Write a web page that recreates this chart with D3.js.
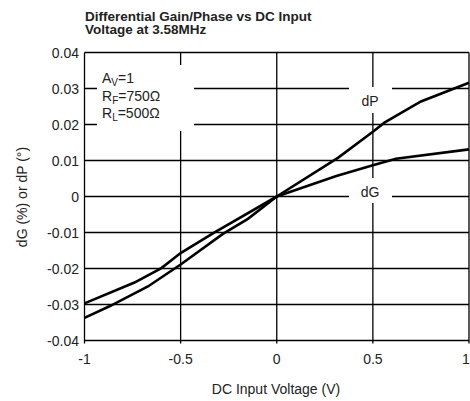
<!DOCTYPE html>
<html lang="en">
<head>
<meta charset="UTF-8">
<title>Differential Gain/Phase vs DC Input Voltage</title>
<script src="https://d3js.org/d3.v7.min.js"></script>
<style>
  html, body { margin: 0; padding: 0; background: #fff; }
  svg { display: block; }
  text { font-family: "Liberation Sans", Arial, sans-serif; fill: #222; }
  .grid { stroke: #000; stroke-width: 1.3px; }
  .curve { fill: none; stroke: #000; stroke-width: 2.6px; }
</style>
</head>
<body>
<svg width="470" height="401"></svg>
<script>
// values
const dgX = [-1, -0.74, -0.6, -0.5, -0.33, 0, 0.31, 0.5, 0.62, 1];
const dgY = [-0.0297, -0.0239, -0.0199, -0.0157, -0.0102, 0, 0.0057, 0.0087, 0.0105, 0.0131];
const dpX = [-1, -0.87, -0.67, -0.5, -0.28, -0.15, 0, 0.32, 0.5, 0.56, 0.75, 1];
const dpY = [-0.0337, -0.0305, -0.025, -0.0189, -0.0104, -0.0062, 0, 0.0108, 0.018, 0.0205, 0.0264, 0.0316];
const xTicks = [-1, -0.5, 0, 0.5, 1];
const yTicks = [-0.04, -0.03, -0.02, -0.01, 0, 0.01, 0.02, 0.03, 0.04];

const svg = d3.select("svg");
const mL = 84.5, mR = 469, mT = 52.5, mB = 340.5;

const x = d3.scaleLinear().domain([-1, 1]).range([mL, mR]);
const y = d3.scaleLinear().domain([-0.04, 0.04]).range([mB, mT]);

// grid
const g = svg.append("g");
g.selectAll(".h").data(yTicks).enter().append("line")
  .attr("class", "grid")
  .attr("x1", mL).attr("x2", mR)
  .attr("y1", d => y(d)).attr("y2", d => y(d));
g.selectAll(".v").data(xTicks).enter().append("line")
  .attr("class", "grid")
  .attr("y1", mT).attr("y2", mB + 3)
  .attr("x1", d => x(d)).attr("x2", d => x(d));

// white patches behind the labels
const patches = [
  [97, 65, 97, 66],
  [349, 87, 43, 26],
  [349, 178, 43, 25]
];
svg.selectAll(".patch").data(patches).enter().append("rect")
  .attr("x", d => d[0]).attr("y", d => d[1])
  .attr("width", d => d[2]).attr("height", d => d[3])
  .attr("fill", "#fff");

// curves
const line = d3.line().x(d => x(d[0])).y(d => y(d[1]));
svg.append("path").attr("class", "curve")
  .attr("d", line(dgX.map((v, i) => [v, dgY[i]])));
svg.append("path").attr("class", "curve")
  .attr("d", line(dpX.map((v, i) => [v, dpY[i]])));

// tick labels
svg.selectAll(".yl").data(yTicks).enter().append("text")
  .attr("x", 79).attr("y", d => y(d)).attr("dy", "0.36em")
  .attr("text-anchor", "end").attr("font-size", 14)
  .text(d => d === 0 ? "0" : d3.format(".2f")(d).replace("−", "-"));
svg.selectAll(".xl").data(xTicks).enter().append("text")
  .attr("x", d => Math.min(x(d), 466)).attr("y", 364)
  .attr("text-anchor", "middle").attr("font-size", 14)
  .text(d => d);

// titles
svg.append("text").attr("x", 85).attr("y", 20.5)
  .attr("font-size", 13.5).attr("font-weight", "bold")
  .text("Differential Gain/Phase vs DC Input");
svg.append("text").attr("x", 85).attr("y", 34)
  .attr("font-size", 13.5).attr("font-weight", "bold")
  .text("Voltage at 3.58MHz");
svg.append("text").attr("x", 276).attr("y", 394)
  .attr("text-anchor", "middle").attr("font-size", 14)
  .text("DC Input Voltage (V)");
svg.append("text")
  .attr("transform", "translate(27,197) rotate(-90)")
  .attr("text-anchor", "middle").attr("font-size", 14)
  .text("dG (%) or dP (°)");

// annotations
const notes = [["A", "V", "=1"], ["R", "F", "=750Ω"], ["R", "L", "=500Ω"]];
notes.forEach((n, i) => {
  const t = svg.append("text").attr("x", 102).attr("y", 83 + i * 17.7).attr("font-size", 14);
  t.append("tspan").text(n[0]);
  t.append("tspan").attr("font-size", 10).attr("dy", 3).text(n[1]);
  t.append("tspan").attr("dy", -3).text(n[2]);
});
svg.append("text").attr("x", 370).attr("y", 106)
  .attr("text-anchor", "middle").attr("font-size", 14).text("dP");
svg.append("text").attr("x", 370).attr("y", 197)
  .attr("text-anchor", "middle").attr("font-size", 14).text("dG");
</script>
</body>
</html>
